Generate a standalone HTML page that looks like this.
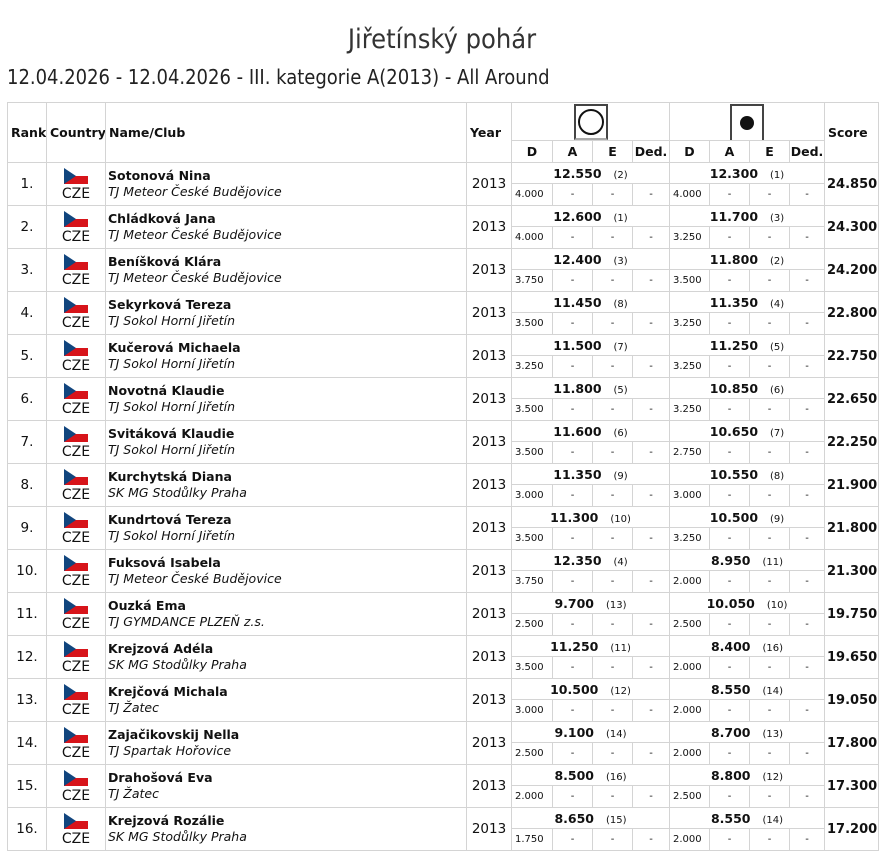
<!DOCTYPE html>
<html><head><meta charset="utf-8"><style>
body{margin:0;background:#fff;color:#111;font-family:"DejaVu Sans",sans-serif;}
h1{position:absolute;top:24px;left:0;width:884px;text-align:center;margin:0;font:normal 27px "DejaVu Sans Condensed","DejaVu Sans",sans-serif;color:#333;}
h2{position:absolute;top:65px;left:7px;margin:0;font:normal 20px "DejaVu Sans Condensed","DejaVu Sans",sans-serif;color:#222;}
table{position:absolute;top:102px;left:7px;border-collapse:collapse;table-layout:fixed;width:871px;font-size:12.5px;}
td,th{border:1px solid #d4d4d4;padding:0;overflow:hidden;white-space:nowrap;}
th{font-weight:bold;text-align:left;padding-left:3px;}
.c{text-align:center;}
.rk{text-align:center;font-size:13.5px;}
.flag{display:block;margin:2px auto 0;width:24px;height:16px;background:linear-gradient(#fff 50%,#d7141a 50%);position:relative;}
.flag:before{content:"";position:absolute;left:0;top:0;border-left:12px solid #11457e;border-top:8px solid transparent;border-bottom:8px solid transparent;}
.cze{display:block;text-align:center;font-size:14px;line-height:16px;margin-top:2px;}
.nm{padding-left:2px;line-height:16px;}
.nm b{font-size:12.5px;}
.nm i{font-size:12.5px;}
.yr{text-align:center;font-size:13.5px;}
.sc{font-weight:bold;text-align:center;font-size:12.5px;}
.sc small{font-weight:normal;font-size:10px;margin-left:12px;}
.d{font-size:10px;padding-left:3px;}
.dash{text-align:center;font-size:10px;}
.tot{font-weight:bold;font-size:13px;padding-left:2px;}
tr.t{height:21px}tr.b{height:22px}
</style></head><body>
<h1>Jiřetínský pohár</h1>
<h2>12.04.2026 - 12.04.2026 - III. kategorie A(2013) - All Around</h2>
<table>
<colgroup><col style="width:39px"><col style="width:59px"><col style="width:361px"><col style="width:45px"><col style="width:41px"><col style="width:40px"><col style="width:40px"><col style="width:37px"><col style="width:40px"><col style="width:40px"><col style="width:40px"><col style="width:35px"><col style="width:54px"></colgroup>
<tr style="height:38px"><th rowspan="2">Rank</th><th rowspan="2">Country</th><th rowspan="2">Name/Club</th><th rowspan="2">Year</th>
<th colspan="4" class="c" style="padding:0;vertical-align:top"><div style="width:34px;height:36px;margin:1px auto 0;border:2px solid #444;border-bottom-color:#aaa;box-sizing:border-box;display:flex;align-items:center;justify-content:center"><div style="width:26px;height:26px;border:2px solid #111;border-radius:50%;box-sizing:border-box"></div></div></th>
<th colspan="4" class="c" style="padding:0;vertical-align:top"><div style="width:34px;height:36px;margin:1px auto 0;border:2px solid #444;border-bottom:none;box-sizing:border-box;display:flex;align-items:center;justify-content:center"><div style="width:14px;height:14px;background:#111;border-radius:50%"></div></div></th>
<th rowspan="2">Score</th></tr>
<tr style="height:22px"><th class="c" style="padding:0">D</th><th class="c" style="padding:0">A</th><th class="c" style="padding:0">E</th><th class="c" style="padding:0">Ded.</th><th class="c" style="padding:0">D</th><th class="c" style="padding:0">A</th><th class="c" style="padding:0">E</th><th class="c" style="padding:0">Ded.</th></tr>
<tbody id="b"></tbody>
</table>
<script>
var d=[
["Sotonová Nina","TJ Meteor České Budějovice","12.550","2","4.000","12.300","1","4.000","24.850"],
["Chládková Jana","TJ Meteor České Budějovice","12.600","1","4.000","11.700","3","3.250","24.300"],
["Beníšková Klára","TJ Meteor České Budějovice","12.400","3","3.750","11.800","2","3.500","24.200"],
["Sekyrková Tereza","TJ Sokol Horní Jiřetín","11.450","8","3.500","11.350","4","3.250","22.800"],
["Kučerová Michaela","TJ Sokol Horní Jiřetín","11.500","7","3.250","11.250","5","3.250","22.750"],
["Novotná Klaudie","TJ Sokol Horní Jiřetín","11.800","5","3.500","10.850","6","3.250","22.650"],
["Svitáková Klaudie","TJ Sokol Horní Jiřetín","11.600","6","3.500","10.650","7","2.750","22.250"],
["Kurchytská Diana","SK MG Stodůlky Praha","11.350","9","3.000","10.550","8","3.000","21.900"],
["Kundrtová Tereza","TJ Sokol Horní Jiřetín","11.300","10","3.500","10.500","9","3.250","21.800"],
["Fuksová Isabela","TJ Meteor České Budějovice","12.350","4","3.750","8.950","11","2.000","21.300"],
["Ouzká Ema","TJ GYMDANCE PLZEŇ z.s.","9.700","13","2.500","10.050","10","2.500","19.750"],
["Krejzová Adéla","SK MG Stodůlky Praha","11.250","11","3.500","8.400","16","2.000","19.650"],
["Krejčová Michala","TJ Žatec","10.500","12","3.000","8.550","14","2.000","19.050"],
["Zajačikovskij Nella","TJ Spartak Hořovice","9.100","14","2.500","8.700","13","2.000","17.800"],
["Drahošová Eva","TJ Žatec","8.500","16","2.000","8.800","12","2.500","17.300"],
["Krejzová Rozálie","SK MG Stodůlky Praha","8.650","15","1.750","8.550","14","2.000","17.200"]];
var h="";d.forEach(function(r,i){
h+='<tr class="t"><td rowspan="2" class="rk">'+(i+1)+'.</td><td rowspan="2"><span class="flag"></span><span class="cze">CZE</span></td><td rowspan="2" class="nm"><b>'+r[0]+'</b><br><i>'+r[1]+'</i></td><td rowspan="2" class="yr">2013</td>'+
'<td colspan="4" class="sc">'+r[2]+'<small>('+r[3]+')</small></td><td colspan="4" class="sc">'+r[5]+'<small>('+r[6]+')</small></td><td rowspan="2" class="tot">'+r[8]+'</td></tr>'+
'<tr class="b"><td class="d">'+r[4]+'</td><td class="dash">-</td><td class="dash">-</td><td class="dash">-</td><td class="d">'+r[7]+'</td><td class="dash">-</td><td class="dash">-</td><td class="dash">-</td></tr>';});
document.getElementById("b").innerHTML=h;
</script>
</body></html>
